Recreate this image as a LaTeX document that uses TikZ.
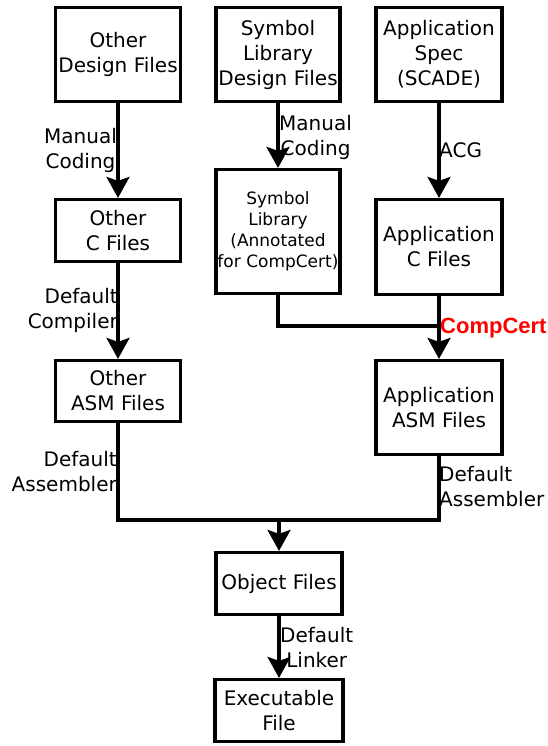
\documentclass[tikz,border=0pt]{standalone}
\usepackage{fontspec}
\setmainfont{DejaVu Sans}
\newfontfamily\ccfont{Liberation Sans}
\usetikzlibrary{arrows.meta}
\begin{document}
\begin{tikzpicture}[x=1pt,y=-1pt,
  fbox/.style={draw, line width=3.2pt, inner sep=0pt, align=center,
    font=\fontsize{20}{25}\selectfont},
  lbl/.style={inner sep=0pt, font=\fontsize{20}{25}\selectfont},
  conn/.style={line width=3.2pt},
  arr/.style={conn, -{Stealth[length=21pt,width=23pt,inset=4pt]}}]
\useasboundingbox (0,0) rectangle (548,746);
\fill[white] (0,0) rectangle (548,746);
% boxes
\node[fbox, minimum width=125pt, minimum height=94pt] (odf) at (118,54.5) {Other\\Design Files};
\node[fbox, minimum width=124pt, minimum height=94pt] (sldf) at (278,54.5) {Symbol\\Library\\Design Files};
\node[fbox, minimum width=126pt, minimum height=94pt] (as) at (439,54.5) {Application\\Spec\\(SCADE)};
\node[fbox, minimum width=125pt, minimum height=62pt] (ocf) at (118,230.5) {Other\\C Files};
\node[fbox, minimum width=124pt, minimum height=124pt, font=\fontsize{17}{21}\selectfont] (sl) at (278,231.5) {Symbol\\Library\\(Annotated\\for CompCert)};
\node[fbox, minimum width=126pt, minimum height=95pt] (acf) at (439,247) {Application\\C Files};
\node[fbox, minimum width=125pt, minimum height=61pt] (oasm) at (118,391) {Other\\ASM Files};
\node[fbox, minimum width=126pt, minimum height=94pt] (aasm) at (439,407.5) {Application\\ASM Files};
\node[fbox, minimum width=126pt, minimum height=62pt] (obj) at (279,583.5) {Object Files};
\node[fbox, minimum width=128pt, minimum height=62pt] (exe) at (279,710.5) {Executable\\File};
% junction coordinates
\coordinate (jc) at (439,326);
\coordinate (jo) at (279,520);
% connectors
\draw[arr] (odf) -- (ocf);
\draw[arr] (sldf) -- (sl);
\draw[arr] (as) -- (acf);
\draw[arr] (ocf) -- (oasm);
\draw[arr] (acf) -- (aasm);
\draw[conn] (sl.south) |- (jc);
\draw[conn] (oasm.south) |- (jo) -| (aasm.south);
\draw[arr] (jo) -- (obj);
\draw[arr] (obj) -- (exe);
% labels
\node[lbl, align=center, anchor=east] (l1) at (117,150) {Manual\\Coding};
\node[lbl, align=center, anchor=west] (l2) at (279,137.5) {Manual\\Coding};
\node[lbl, anchor=west] (l3) at (439,150) {ACG};
\node[lbl, align=right, anchor=east] (l4) at (118,310.5) {Default\\Compiler};
\node[inner sep=0pt, anchor=west, text=red, font=\ccfont\bfseries\fontsize{22}{26}\selectfont] (l5) at (440,328) {CompCert};
\node[lbl, align=right, anchor=east] (l6) at (117,471.5) {Default\\Assembler};
\node[lbl, align=left, anchor=west] (l7) at (439,487) {Default\\Assembler};
\node[lbl, align=center, anchor=west] (l8) at (280,647.5) {Default\\Linker};
\end{tikzpicture}
\end{document}
